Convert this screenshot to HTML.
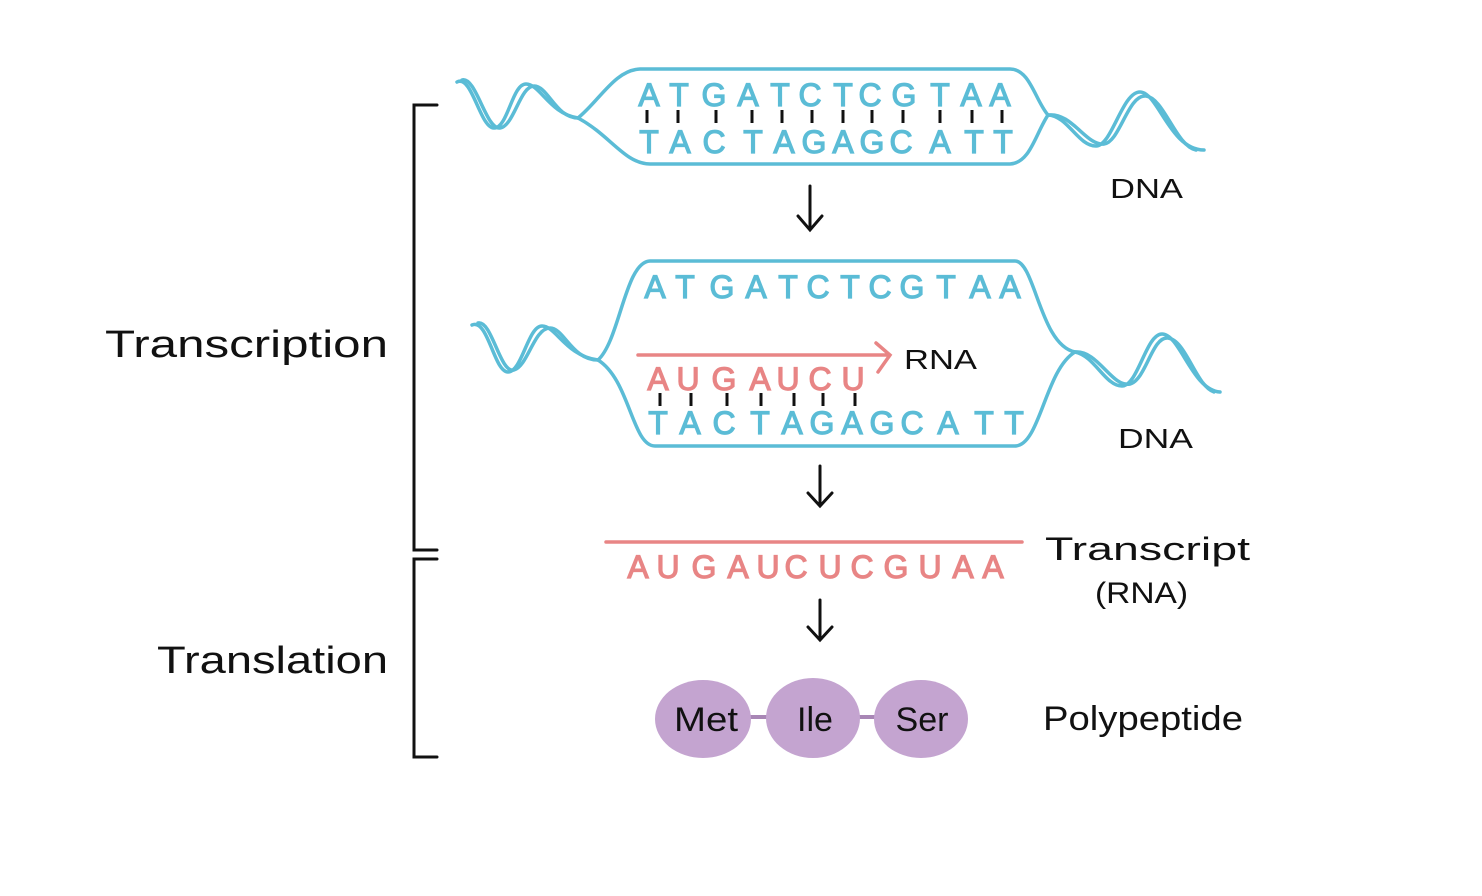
<!DOCTYPE html>
<html><head><meta charset="utf-8"><style>
html,body{margin:0;padding:0;background:#fff;width:1482px;height:896px;overflow:hidden}
svg{display:block}
.b{fill:#5bbcd6;stroke:#5bbcd6;stroke-width:1.2;font-family:"Liberation Sans",sans-serif;font-size:32px;text-anchor:middle}
.p{fill:#e88585;stroke:#e88585;stroke-width:1.2;font-family:"Liberation Sans",sans-serif;font-size:32px;text-anchor:middle}
.k{fill:#111;font-family:"Liberation Sans",sans-serif}
</style></head><body>
<svg width="1482" height="896" viewBox="0 0 1482 896">
<g fill="none" stroke="#5bbcd6" stroke-width="3.5" stroke-linecap="round">
<path d="M578,118 C600,100 615,70 640,69 L1010,69 C1030,69 1035,100 1048,115 C1035,135 1030,163 1010,164 L650,164 C625,164 610,135 578,118 Z"/>
<path d="M457,82 C472,74 480,128 494,128 C508,128 512,84 526,84 C540,84 550,114 578,118"/>
<path d="M462,80 C476,76 486,130 500,128 C514,126 520,86 534,86 C548,86 556,118 578,118"/>
<path d="M1048,115 C1068,116 1078,146 1096,146 C1112,146 1122,92 1140,92 C1158,92 1170,150 1204,150"/>
<path d="M1048,115 C1072,112 1086,146 1104,144 C1120,142 1128,94 1146,96 C1164,98 1176,146 1196,150"/>
<path d="M598,360 C620,340 625,262 650,261 L1015,261 C1035,261 1040,345 1075,352 C1045,370 1040,446 1015,446 L655,446 C632,446 630,380 598,360 Z"/>
<path d="M472,325 C488,318 494,372 508,372 C522,372 528,326 542,326 C556,326 566,356 598,360"/>
<path d="M478,323 C492,320 500,374 514,370 C528,366 534,328 550,328 C564,328 572,360 598,360"/>
<path d="M1075,352 C1095,356 1105,386 1122,386 C1138,386 1146,334 1162,334 C1180,334 1192,390 1220,392"/>
<path d="M1075,352 C1098,350 1112,388 1130,384 C1146,380 1152,336 1168,338 C1186,340 1196,386 1214,392"/>
</g>
<g class="b">
<text x="649" y="106">A</text><text x="679" y="106">T</text><text x="714" y="106">G</text><text x="748" y="106">A</text><text x="780" y="106">T</text><text x="810" y="106">C</text><text x="843" y="106">T</text><text x="870" y="106">C</text><text x="904" y="106">G</text><text x="940" y="106">T</text><text x="971" y="106">A</text><text x="1000" y="106">A</text>
<text x="649" y="153">T</text><text x="680" y="153">A</text><text x="714" y="153">C</text><text x="753" y="153">T</text><text x="784" y="153">A</text><text x="814" y="153">G</text><text x="843" y="153">A</text><text x="872" y="153">G</text><text x="901" y="153">C</text><text x="940" y="153">A</text><text x="974" y="153">T</text><text x="1003" y="153">T</text>
<text x="655" y="298">A</text><text x="685" y="298">T</text><text x="722" y="298">G</text><text x="756" y="298">A</text><text x="788" y="298">T</text><text x="818" y="298">C</text><text x="850" y="298">T</text><text x="880" y="298">C</text><text x="912" y="298">G</text><text x="946" y="298">T</text><text x="980" y="298">A</text><text x="1010" y="298">A</text>
<text x="658" y="434">T</text><text x="690" y="434">A</text><text x="724" y="434">C</text><text x="760" y="434">T</text><text x="792" y="434">A</text><text x="822" y="434">G</text><text x="852" y="434">A</text><text x="882" y="434">G</text><text x="912" y="434">C</text><text x="948" y="434">A</text><text x="984" y="434">T</text><text x="1014" y="434">T</text>
</g>
<g stroke="#111" stroke-width="3">
<path d="M647,110v13M678,110v13M716,110v13M752,110v13M782,110v13M812,110v13M843,110v13M872,110v13M903,110v13M940,110v13M972,110v13M1002,110v13"/>
<path d="M660,393v13M691,393v13M727,393v13M761,393v13M794,393v13M823,393v13M855,393v13"/>
</g>
<g fill="none" stroke="#e88585" stroke-width="3.5" stroke-linecap="round">
<path d="M638,355 L888,355 M876,343 L890,355 L878,372"/>
<line x1="606" y1="542" x2="1022" y2="542"/>
</g>
<g class="p">
<text x="658" y="390">A</text><text x="688" y="390">U</text><text x="724" y="390">G</text><text x="760" y="390">A</text><text x="788" y="390">U</text><text x="820" y="390">C</text><text x="853" y="390">U</text>
<text x="638" y="578">A</text><text x="668" y="578">U</text><text x="704" y="578">G</text><text x="738" y="578">A</text><text x="768" y="578">U</text><text x="796" y="578">C</text><text x="830" y="578">U</text><text x="862" y="578">C</text><text x="896" y="578">G</text><text x="930" y="578">U</text><text x="963" y="578">A</text><text x="993" y="578">A</text>
</g>
<g fill="none" stroke="#111" stroke-width="3" stroke-linecap="round">
<path d="M810,186v43M798,216l12,14l12,-14"/>
<path d="M820,466v40M808,493l12,13l12,-13"/>
<path d="M820,600v40M808,627l12,13l12,-13"/>
<path d="M437,105h-23v445h23M437,559h-23v198h23"/>
</g>
<line x1="740" y1="717" x2="890" y2="717" stroke="#a886b5" stroke-width="4"/>
<g fill="#c4a4d0">
<ellipse cx="703" cy="719" rx="48" ry="39"/>
<ellipse cx="813" cy="718" rx="47" ry="40"/>
<ellipse cx="921" cy="719" rx="47" ry="39"/>
</g>
<g class="k" font-size="34" text-anchor="middle">
<text x="706" y="731" textLength="64" lengthAdjust="spacingAndGlyphs">Met</text><text x="815" y="731">Ile</text><text x="922" y="731">Ser</text>
</g>
<g class="k" lengthAdjust="spacingAndGlyphs">
<text x="105" y="357" font-size="38" textLength="283" lengthAdjust="spacingAndGlyphs">Transcription</text>
<text x="157" y="673" font-size="38" textLength="231" lengthAdjust="spacingAndGlyphs">Translation</text>
<text x="1110" y="198" font-size="28" textLength="73" lengthAdjust="spacingAndGlyphs">DNA</text>
<text x="1118" y="448" font-size="28" textLength="75" lengthAdjust="spacingAndGlyphs">DNA</text>
<text x="904" y="369" font-size="28" textLength="73" lengthAdjust="spacingAndGlyphs">RNA</text>
<text x="1045" y="560" font-size="32" textLength="205" lengthAdjust="spacingAndGlyphs">Transcript</text>
<text x="1095" y="603" font-size="30" textLength="93" lengthAdjust="spacingAndGlyphs">(RNA)</text>
<text x="1043" y="730" font-size="34" textLength="200" lengthAdjust="spacingAndGlyphs">Polypeptide</text>
</g>
</svg>
</body></html>
